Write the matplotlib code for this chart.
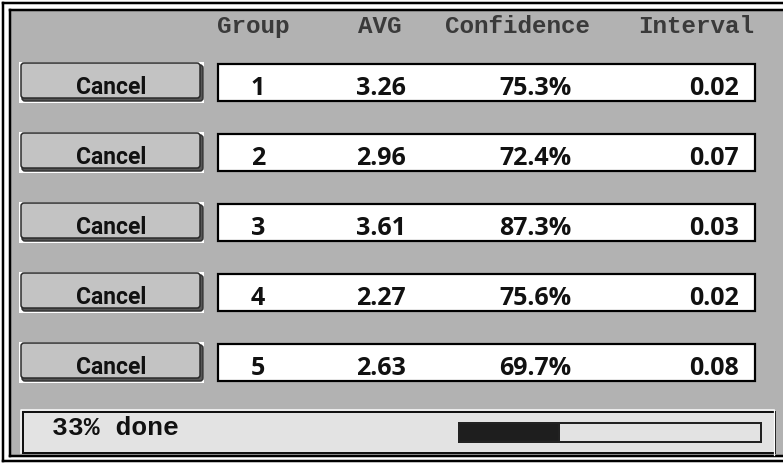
import matplotlib.pyplot as plt
from matplotlib.patches import Rectangle, FancyBboxPatch

# table values
groups = [1, 2, 3, 4, 5]
avgs = [3.26, 2.96, 3.61, 2.27, 2.63]
confidence = [75.3, 72.4, 87.3, 75.6, 69.7]
intervals = [0.02, 0.07, 0.03, 0.02, 0.08]
headers = ["Group", "AVG", "Confidence", "Interval"]
button_label = "Cancel"
progress = 33

W, H = 783, 463
PX = 0.72  # one pixel in points at dpi 100

fig = plt.figure(figsize=(W / 100, H / 100), dpi=100)
fig.patch.set_facecolor('white')
ax = fig.add_axes([0, 0, 1, 1])
ax.set_xlim(0, W)
ax.set_ylim(H, 0)
ax.axis('off')

grey = '#b2b2b2'

# window background and double frame
ax.add_patch(Rectangle((10, 10), W, 446, facecolor=grey, edgecolor='none'))
ax.plot([3, W], [3, 3], color='black', lw=2.5 * PX)
ax.plot([10, W], [10, 10], color='black', lw=2.5 * PX)
ax.plot([3, 3], [3, 461], color='black', lw=2.5 * PX)
ax.plot([10, 10], [10, 456], color='black', lw=2.5 * PX)
ax.plot([3, W], [461, 461], color='black', lw=2.5 * PX)
ax.plot([10, W], [456, 456], color='black', lw=2.5 * PX)

# header
mono = 'Liberation Mono'
header_x = [253, 380, 518, 696]
for hx, h in zip(header_x, headers):
    ax.text(hx, 33, h, family=mono, fontsize=17.5, fontweight='bold',
            ha='center', va='baseline', color='#3a3a3a')

row_top0 = 63
row_step = 70
row_h = 39
for i, (g, a, c, iv) in enumerate(zip(groups, avgs, confidence, intervals)):
    top = row_top0 + i * row_step
    # button: highlight, shadow, body
    ax.add_patch(Rectangle((19, top - 1), 185, 41, facecolor='white',
                           edgecolor='none'))
    ax.add_patch(FancyBboxPatch((22, top + 2), 181, 36,
                                boxstyle='round,pad=0,rounding_size=3',
                                facecolor='#555555', edgecolor='#333333',
                                lw=1.5 * PX))
    ax.add_patch(FancyBboxPatch((21, top), 179, 35,
                                boxstyle='round,pad=0,rounding_size=3',
                                facecolor='#c3c3c3', edgecolor='#2a2a2a',
                                lw=1.5 * PX))
    ax.text(111, top + 31, button_label, family='Roboto', fontweight='bold',
            fontsize=16.5, ha='center', va='baseline', color='#111111')

    # data box
    ax.add_patch(Rectangle((218, top + 1), 537, row_h - 2, facecolor='white',
                           edgecolor='black', lw=2.2 * PX))
    base = top + 32
    kw = dict(family='Open Sans', fontweight='bold', fontsize=18,
              va='baseline', color='#111111')
    ax.text(258, base, str(g), ha='center', **kw)
    ax.text(381, base, f"{a:.2f}", ha='center', **kw)
    ax.text(535, base, f"{c:.1f}%", ha='center', **kw)
    ax.text(739, base, f"{iv:.2f}", ha='right', **kw)

# status bar
ax.plot([21, 21, 774], [453, 410, 410], color='white', lw=1.5 * PX)
ax.add_patch(Rectangle((23, 412), 752, 41, facecolor='#e3e3e3',
                       edgecolor='#111111', lw=2 * PX))
ax.plot([774, 774], [410, 455], color='white', lw=1.2 * PX)
ax.text(52, 435, f"{progress}% done", family=mono, fontweight='bold',
        fontsize=19, ha='left', va='baseline', color='#111111')

# progress bar
bar_x0, bar_x1 = 459, 761
ax.add_patch(Rectangle((bar_x0, 423), bar_x1 - bar_x0, 19,
                       facecolor='#e3e3e3', edgecolor='#222222', lw=2 * PX))
ax.barh(432.5, (bar_x1 - bar_x0) * progress / 100, height=19, left=bar_x0,
        color='#1e1e1e', edgecolor='#222222', lw=2 * PX)

fig.savefig('out.png', dpi=100, facecolor='white')
